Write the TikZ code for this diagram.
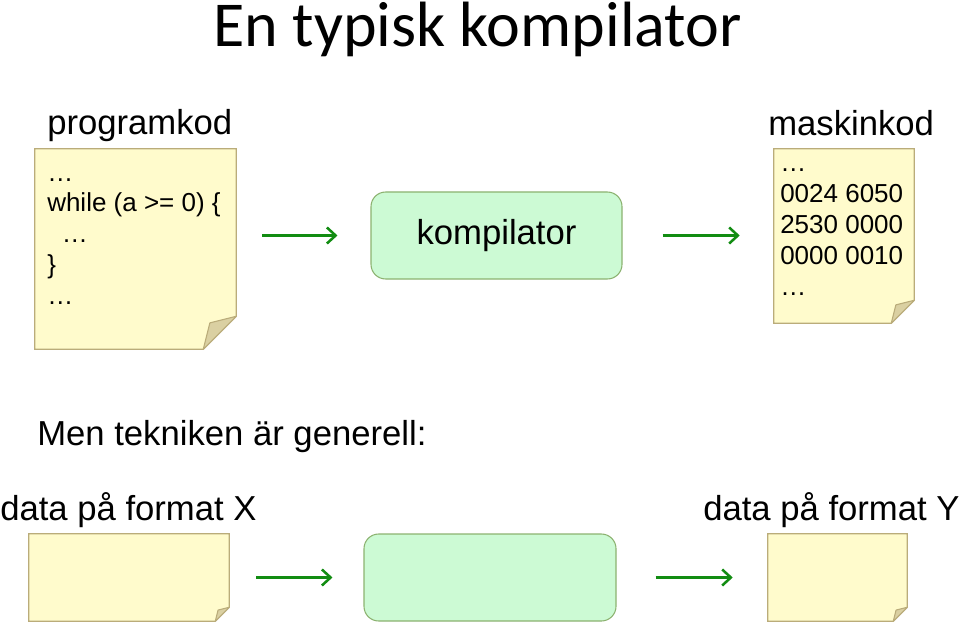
\documentclass[tikz,border=0pt]{standalone}
\usepackage{fontspec}
\setmainfont{Liberation Sans}
\newfontfamily\rubrikfont{Carlito}
\usepackage{tikz}
\usetikzlibrary{arrows.meta, positioning, calc}

\definecolor{lappgul}{RGB}{255,251,204}
\definecolor{lappram}{RGB}{186,172,122}
\definecolor{vikgul}{RGB}{218,208,162}
\definecolor{boxgron}{RGB}{204,250,212}
\definecolor{boxram}{RGB}{140,178,112}
\definecolor{pilgron}{RGB}{18,140,18}

\tikzset{
  lapp/.style={rectangle, inner sep=0pt, draw=none},
  lappkant/.style={fill=lappgul, draw=lappram, line width=0.8pt},
  vikdel/.style={fill=vikgul, draw=lappram, line width=0.8pt, line join=round},
  maskin/.style={rectangle, rounded corners=11pt, fill=boxgron, draw=boxram,
    line width=0.8pt, inner sep=0pt, font=\fontsize{26}{31}\selectfont},
  pil/.style={draw=pilgron, line width=2.3pt,
    -{Straight Barb[length=6.5pt,width=12pt,line width=1.9pt]}},
  etikett/.style={inner sep=0pt, anchor=base west, font=\fontsize{26}{31}\selectfont},
  kodrad/.style={inner sep=0pt, anchor=base west, font=\fontsize{19.5}{23}\selectfont}
}

% papperslapp med vikt hörn: #1 nod, #2 vikens storlek
\newcommand{\lappvik}[2]{%
  \draw[lappkant] (#1.north west) -- (#1.north east) -- ($(#1.south east)+(0,-#2)$)
    -- ($(#1.south east)+(-#2,0)$) -- (#1.south west) -- cycle;
  \draw[vikdel] ($(#1.south east)+(0,-#2)$) -- ($(#1.south east)+(-0.8*#2,-0.8*#2)$)
    -- ($(#1.south east)+(-#2,0)$) -- cycle;
}

\begin{document}
\begin{tikzpicture}[x=0.75pt, y=-0.75pt]
  \useasboundingbox (0,0) rectangle (960,624);

  %% rubrik
  \node[inner sep=0pt, anchor=base, font=\rubrikfont\fontsize{48}{56}\selectfont]
    (titel) at (477.5,47) {En typisk kompilator};

  %% kompilatorn
  \node[lapp, minimum width=150.75pt, minimum height=150pt] (prog) at (135.5,249) {};
  \lappvik{prog}{33}
  \node[etikett] (progtext) at (47,135) {programkod};
  \foreach \rad [count=\i] in {…, {while (a >= 0) \{}, {\hspace*{11pt}…}, \}, …}
    \node[kodrad] (prog\i) at (47,{181+(\i-1)*30.75}) {\rad};

  \node[maskin, minimum width=188.25pt, minimum height=65.25pt] (komp) at (496.5,235.5) {kompilator};

  \node[lapp, minimum width=105pt, minimum height=130.5pt] (mask) at (844,236) {};
  \lappvik{mask}{23}
  \node[etikett] (masktext) at (768,136) {maskinkod};
  \foreach \rad [count=\i] in {…, 0024 6050, 2530 0000, 0000 0010, …}
    \node[kodrad] (mask\i) at (780,{172+(\i-1)*30.75}) {\rad};

  \draw[pil, shorten <=19.5pt, shorten >=24.75pt] (prog.east |- komp.west) -- (komp.west);
  \draw[pil, shorten <=30pt, shorten >=25.5pt] (komp.east) -- (mask.west |- komp.east);

  %% generellt
  \node[etikett] (men) at (37,445) {Men tekniken är generell:};
  \node[etikett] (xtext) at (0,520) {data på format X};
  \node[etikett] (ytext) at (703,520) {data på format Y};

  \node[lapp, minimum width=150pt, minimum height=65.25pt] (xdata) at (129,577.5) {};
  \lappvik{xdata}{14}
  \node[maskin, minimum width=189pt, minimum height=65.25pt] (trans) at (490,577.5) {};
  \node[lapp, minimum width=104.25pt, minimum height=65.25pt] (ydata) at (837.5,577.5) {};
  \lappvik{ydata}{14}

  \draw[pil, shorten <=20.25pt, shorten >=23.25pt] (xdata.east) -- (trans.west);
  \draw[pil, shorten <=29.25pt, shorten >=26.25pt] (trans.east) -- (ydata.west);
\end{tikzpicture}
\end{document}
